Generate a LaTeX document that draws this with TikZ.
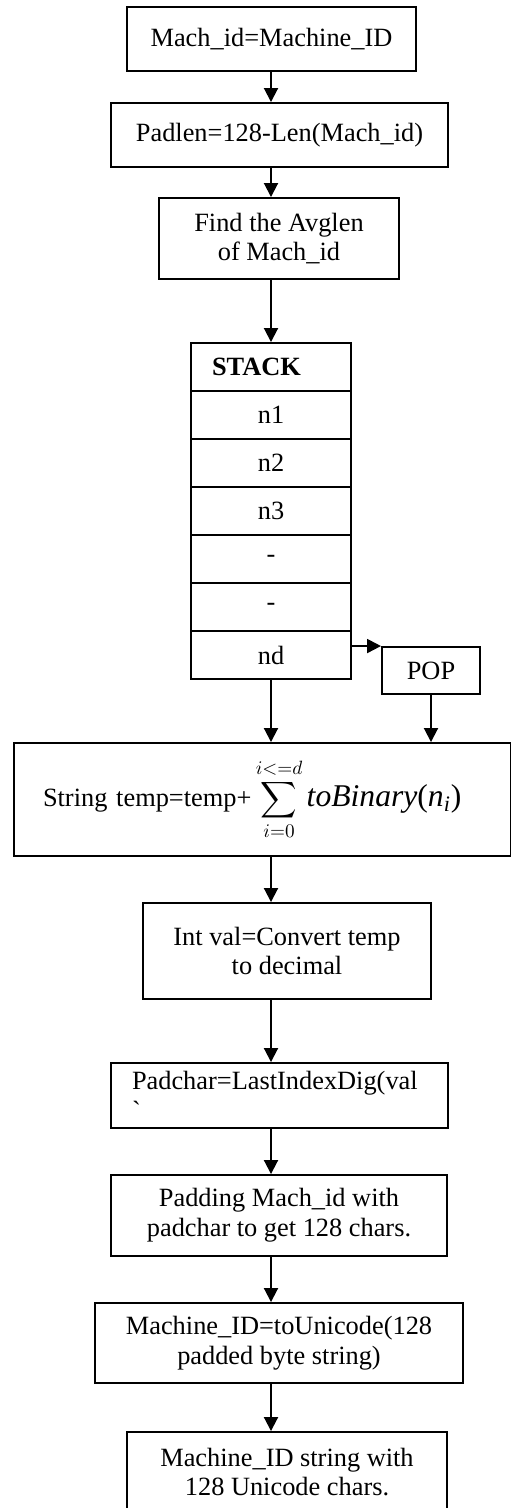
\documentclass[tikz,border=0pt]{standalone}
\usepackage{fontspec}
\setmainfont{Liberation Serif}
\usepackage{amsmath}
\usetikzlibrary{arrows.meta, calc, positioning}

\tikzset{
  procbox/.style={draw, line width=1.1pt, inner sep=0pt, align=center},
  cellbox/.style={draw, line width=1.1pt, inner sep=0pt, minimum width=3.2cm, minimum height=0.96cm},
  flow/.style={-{Triangle[width=0.28cm,length=0.28cm]}, line width=1.1pt},
}

\begin{document}
\begin{tikzpicture}[font=\fontsize{15}{17}\selectfont]
            \useasboundingbox (0,0) rectangle (10.22,-30.16);
            \coordinate (axis) at (5.42,0);
            % steps before the stack
            \node[procbox, minimum width=5.78cm, minimum height=1.28cm] (machid) at (5.43,-0.78) {Mach\_id=Machine\_ID};
            \node[procbox, minimum width=6.74cm, minimum height=1.28cm] (padlen) at (5.59,-2.70) {Padlen=128-Len(Mach\_id)};
            \node[procbox, minimum width=4.80cm, minimum height=1.62cm] (avglen) at (5.58,-4.77) {Find the Avglen\\of Mach\_id};
            % the stack
            \node[cellbox, text width=2.36cm, align=left, inner xsep=0.42cm] (s0) at (5.42,-7.34) {\textbf{STACK}};
            \node[cellbox] (s1) at (5.42,-8.30) {n1};
            \node[cellbox] (s2) at (5.42,-9.26) {n2};
            \node[cellbox] (s3) at (5.42,-10.22) {n3};
            \node[cellbox] (s4) at (5.42,-11.18) {-};
            \node[cellbox] (s5) at (5.42,-12.14) {-};
            \node[cellbox] (s6) at (5.42,-13.10) {nd};
            \node[procbox, minimum width=1.96cm, minimum height=0.94cm] (pop) at (8.62,-13.41) {POP};
            % steps after the stack
            \node[procbox, minimum width=9.94cm, minimum height=2.26cm, text width=8.78cm, align=left, inner xsep=0.58cm] (binsum) at (5.25,-15.99)
                {String temp=temp+\,$\displaystyle\sum_{i=0}^{i<=d}$\,{\fontsize{18}{18}\selectfont\textit{toBinary}(\textit{n}\textsubscript{\textit{i}})}};
            \node[procbox, minimum width=5.76cm, minimum height=1.92cm] (intval) at (5.74,-19.02) {Int val=Convert temp\\to decimal};
            \node[procbox, minimum width=6.74cm, minimum height=1.30cm, text width=5.90cm, align=left, inner xsep=0.42cm] (padchar) at (5.59,-21.91)
                {Padchar=LastIndexDig(val\\\textasciigrave};
            \node[procbox, minimum width=6.72cm, minimum height=1.62cm] (padding) at (5.58,-24.31) {Padding Mach\_id with\\padchar to get 128 chars.};
            \node[procbox, minimum width=7.36cm, minimum height=1.60cm] (unicode) at (5.58,-26.86) {Machine\_ID=toUnicode(128\\padded byte string)};
            \node[procbox, minimum width=6.40cm, minimum height=1.60cm] (result) at (5.74,-29.44) {Machine\_ID string with\\128 Unicode chars.};

            \draw[flow] (machid.south -| axis) -- (padlen.north -| axis);
            \draw[flow] (padlen.south -| axis) -- (avglen.north -| axis);
            \draw[flow] (avglen.south -| axis) -- (s0.north -| axis);
            \draw[flow] (s6.east |- pop.north) -- (pop.north west);
            \draw[flow] (s6.south -| axis) -- (binsum.north -| axis);
            \draw[flow] (pop.south) -- (pop.south |- binsum.north);
            \draw[flow] (binsum.south -| axis) -- (intval.north -| axis);
            \draw[flow] (intval.south -| axis) -- (padchar.north -| axis);
            \draw[flow] (padchar.south -| axis) -- (padding.north -| axis);
            \draw[flow] (padding.south -| axis) -- (unicode.north -| axis);
            \draw[flow] (unicode.south -| axis) -- (result.north -| axis);
        \end{tikzpicture}
\end{document}
